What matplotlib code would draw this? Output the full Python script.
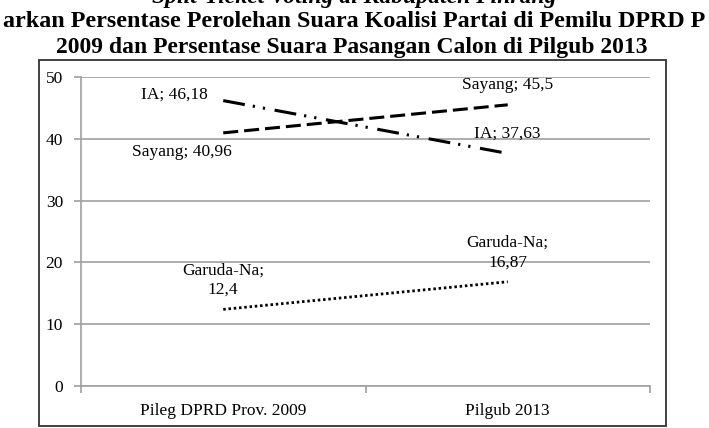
import numpy as np
import matplotlib
matplotlib.use("Agg")
import matplotlib.pyplot as plt
from matplotlib.patches import Rectangle

# data
categories = ["Pileg DPRD Prov. 2009", "Pilgub 2013"]
ia = [46.18, 37.63]
sayang = [40.96, 45.5]
garuda = [12.4, 16.87]

plt.rcParams['font.family'] = ['Liberation Serif', 'DejaVu Serif']
plt.rcParams['lines.scale_dashes'] = False

W, H = 709, 428
fig = plt.figure(figsize=(W / 100, H / 100), dpi=100)


def fx(px):
    return px / W


def fy(py):
    return 1 - py / H


# caption lines (cut off like in the scanned page)
fig.text(fx(354), fy(3), "Split-Ticket Voting di Kabupaten Pinrang", ha='center', va='baseline',
         fontsize=17, style='italic', fontweight='bold')
fig.text(fx(354), fy(27), "arkan Persentase Perolehan Suara Koalisi Partai di Pemilu DPRD P",
         ha='center', va='baseline', fontsize=17.4, fontweight='bold')
fig.text(fx(352), fy(53), "2009 dan Persentase Suara Pasangan Calon di Pilgub 2013",
         ha='center', va='baseline', fontsize=17, fontweight='bold')

# chart frame
fig.patches.append(Rectangle((fx(39), fy(426)), fx(666) - fx(39), fy(60) - fy(426),
                             transform=fig.transFigure, fill=False, ec='#333333', lw=1.3))

ax = fig.add_axes([fx(81), fy(386), fx(650) - fx(81), fy(77) - fy(386)])
x = np.arange(len(categories))

ax.plot(x, ia, color='black', lw=2.2, dashes=(15.8, 5.8, 1.6, 5.8, 1.6, 7), solid_capstyle='butt')
ax.plot(x, sayang, color='black', lw=2.2, dashes=(10.8, 4.3))
ax.plot(x, garuda, color='black', lw=2, dashes=(1.8, 2.0))

ax.set_xlim(-0.5, 1.5)
ax.set_ylim(0, 50)
ax.set_yticks(np.arange(0, 51, 10))
ax.set_xticks(x)
ax.set_xticklabels(categories, fontsize=12.5)
ax.set_xticks([-0.5, 0.5, 1.5], minor=True)
ax.tick_params(axis='x', which='major', length=0, pad=12)
ax.tick_params(axis='x', which='minor', length=5, color='#a0a0a0', width=1.2)
ax.tick_params(axis='y', length=5, color='#a0a0a0', width=1.2, labelsize=12.5, pad=8)

ax.grid(axis='y', color='#a0a0a0', lw=1.2)
ax.set_axisbelow(True)
for s in ['top', 'right']:
    ax.spines[s].set_visible(False)
for s in ['left', 'bottom']:
    ax.spines[s].set_color('#a0a0a0')
    ax.spines[s].set_linewidth(1.2)


def lab(name, v):
    return f"{name}; {v}".replace('.', ',')


ax.annotate(lab("IA", ia[0]), (0, ia[0]), xytext=(-11, 4), textcoords='offset points',
            ha='right', va='center', fontsize=12.5)
ax.annotate(lab("Sayang", sayang[0]), (0, sayang[0]), xytext=(-30, -14), textcoords='offset points',
            ha='center', va='center', fontsize=12.5)
ax.annotate(lab("Sayang", sayang[1]), (1, sayang[1]), xytext=(0, 14), textcoords='offset points',
            ha='center', va='center', fontsize=12.5)
ax.annotate(lab("IA", ia[1]), (1, ia[1]), xytext=(0, 14), textcoords='offset points',
            ha='center', va='center', fontsize=12.5)
ax.annotate(lab("Garuda-Na", garuda[0]).replace("; ", ";\n"), (0, garuda[0]), xytext=(0, 21),
            textcoords='offset points', ha='center', va='center', fontsize=12.5, linespacing=1.3)
ax.annotate(lab("Garuda-Na", garuda[1]).replace("; ", ";\n"), (1, garuda[1]), xytext=(0, 21),
            textcoords='offset points', ha='center', va='center', fontsize=12.5, linespacing=1.3)

fig.savefig("out.png", dpi=100)
